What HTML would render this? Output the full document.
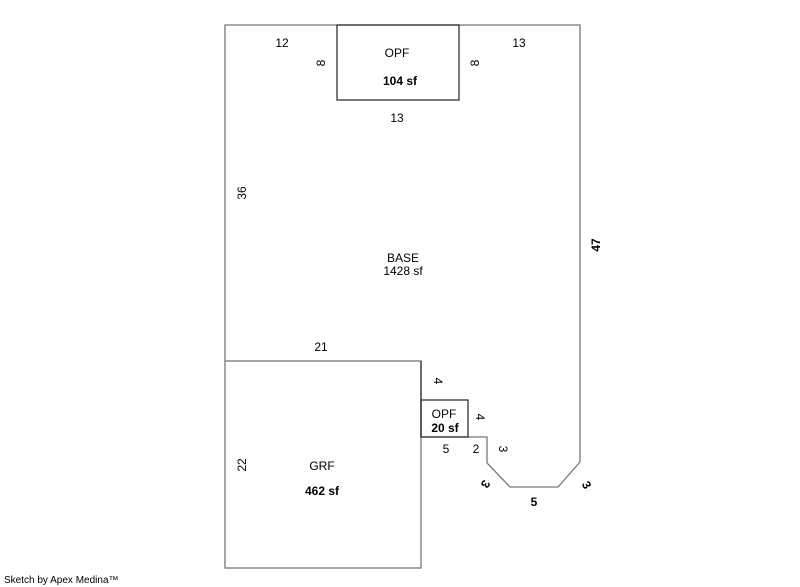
<!DOCTYPE html>
<html><head><style>
body{margin:0;background:#fff;width:800px;height:587px;overflow:hidden}
svg{display:block}
text{font-family:"Liberation Sans",Arial,sans-serif;font-size:12px;fill:#000}
.b{font-weight:bold}
</style></head><body>
<svg width="800" height="587" viewBox="0 0 800 587">
<g fill="none" stroke="#777" stroke-width="1.3">
<polyline points="225,361 225,25 580,25 580,462 558,487 510,487 487,463 487,437 421,437"/>
<rect x="225" y="361" width="196" height="207"/>
</g>
<g fill="none" stroke="#333" stroke-width="1.3">
<rect x="337" y="25" width="122" height="75"/>
<polyline points="421,361 421,437"/>
<rect x="421" y="400" width="47" height="37"/>
</g>
<text x="282" y="47" text-anchor="middle">12</text>
<text x="519" y="47" text-anchor="middle">13</text>
<text x="397" y="122" text-anchor="middle">13</text>
<text x="397" y="57" text-anchor="middle">OPF</text>
<text x="400" y="85" text-anchor="middle" class="b">104 sf</text>
<text transform="translate(325,63) rotate(-90)" text-anchor="middle">8</text>
<text transform="translate(479,63) rotate(-90)" text-anchor="middle">8</text>
<text transform="translate(246,193) rotate(-90)" text-anchor="middle">36</text>
<text transform="translate(600,245) rotate(-90)" text-anchor="middle" class="b">47</text>
<text x="403" y="262" text-anchor="middle">BASE</text>
<text x="403" y="275" text-anchor="middle">1428 sf</text>
<text x="321" y="351" text-anchor="middle">21</text>
<text transform="translate(434,381) rotate(90)" text-anchor="middle">4</text>
<text transform="translate(476,417) rotate(90)" text-anchor="middle">4</text>
<text x="444" y="418" text-anchor="middle">OPF</text>
<text x="445" y="432" text-anchor="middle" class="b">20 sf</text>
<text x="446" y="453" text-anchor="middle">5</text>
<text x="476" y="453" text-anchor="middle">2</text>
<text transform="translate(499,449) rotate(90)" text-anchor="middle">3</text>
<text transform="translate(482,482) rotate(120)" text-anchor="middle" class="b">3</text>
<text x="534" y="506" text-anchor="middle" class="b">5</text>
<text transform="translate(583,487) rotate(60)" text-anchor="middle" class="b">3</text>
<text x="322" y="470" text-anchor="middle">GRF</text>
<text x="322" y="495" text-anchor="middle" class="b">462 sf</text>
<text transform="translate(246,465) rotate(-90)" text-anchor="middle">22</text>
<text x="4" y="583" style="font-size:10px">Sketch by Apex Medina™</text>
</svg>
</body></html>
